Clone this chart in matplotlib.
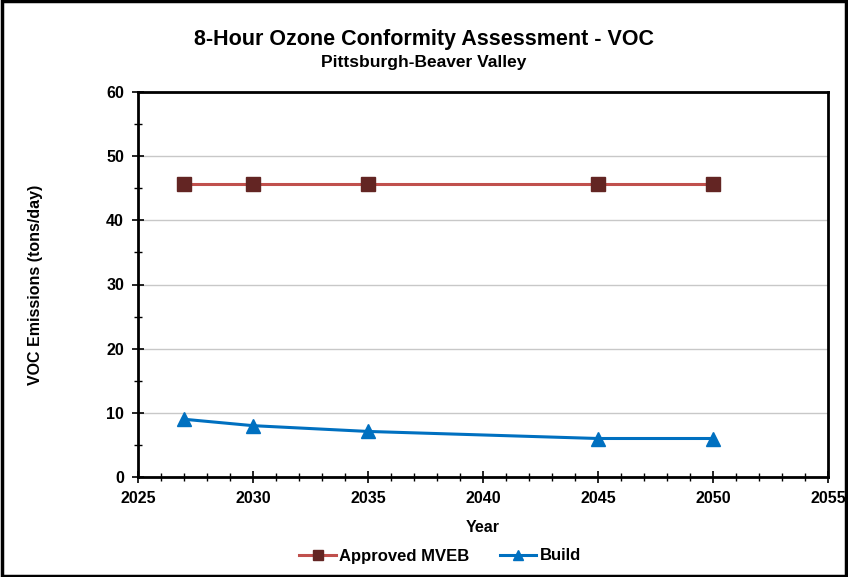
import matplotlib
matplotlib.use("Agg")
import matplotlib.pyplot as plt
from matplotlib.ticker import MultipleLocator
from matplotlib.patches import Rectangle

years = [2027, 2030, 2035, 2045, 2050]
mveb = [45.7, 45.7, 45.7, 45.7, 45.7]
build = [9.0, 8.0, 7.1, 6.0, 6.0]
x_ticks = [2025, 2030, 2035, 2040, 2045, 2050, 2055]
y_ticks = [0, 10, 20, 30, 40, 50, 60]

plt.rcParams['font.family'] = ['Liberation Sans', 'DejaVu Sans']
plt.rcParams['font.weight'] = 'bold'

fig = plt.figure(figsize=(8.48, 5.77), dpi=100)
ax = fig.add_axes([138/848, 1-477/577, (828-138)/848, (477-92)/577])

ax.plot(years, mveb, color='#C0504D', lw=2.2, marker='s', markersize=10,
        markerfacecolor='#632523', markeredgecolor='#632523', label='Approved MVEB', zorder=3)
ax.plot(years, build, color='#0070C0', lw=2.2, marker='^', markersize=10,
        markerfacecolor='#0070C0', markeredgecolor='#0070C0', label='Build', zorder=3)

ax.set_xlim(2025, 2055)
ax.set_ylim(0, 60)
ax.set_xticks(x_ticks)
ax.set_yticks(y_ticks)
ax.xaxis.set_minor_locator(MultipleLocator(1))
ax.yaxis.set_minor_locator(MultipleLocator(5))
ax.tick_params(axis='both', which='major', direction='inout', length=8, width=1.2, labelsize=11.5, pad=6)
ax.tick_params(axis='both', which='minor', direction='inout', length=6, width=1.0)
ax.tick_params(axis='x', which='both', top=False)
ax.tick_params(axis='y', which='both', right=False)
for lab in ax.get_xticklabels() + ax.get_yticklabels():
    lab.set_fontweight('bold')

ax.grid(axis='y', which='major', color='#C8C8C8', lw=1.0)
ax.set_axisbelow(True)
for s in ax.spines.values():
    s.set_linewidth(2.0)
    s.set_color('black')

ax.set_xlabel('Year', fontsize=11.5, fontweight='bold')
ax.xaxis.set_label_coords(0.5, -(520-477)/385)
ax.set_ylabel('VOC Emissions (tons/day)', fontsize=11.5, fontweight='bold')
ax.yaxis.set_label_coords((43-138)/690, 0.5)

fig.text(0.5, 1-40/577, '8-Hour Ozone Conformity Assessment - VOC', ha='center', va='center',
         fontsize=15.5, fontweight='bold')
fig.text(0.5, 1-63/577, 'Pittsburgh-Beaver Valley', ha='center', va='center',
         fontsize=12.5, fontweight='bold')

leg = fig.legend(loc='center', bbox_to_anchor=(440/848, 1-556/577), ncol=2, frameon=False,
                 handlelength=2.2, columnspacing=1.8, handletextpad=0.2, markerscale=0.75,
                 prop={'weight': 'bold', 'size': 12})

fig.patches.append(Rectangle((0.002, 0.002), 0.996, 0.996, transform=fig.transFigure,
                             fill=False, edgecolor='black', lw=2.5))

fig.savefig('out.png', dpi=100)
